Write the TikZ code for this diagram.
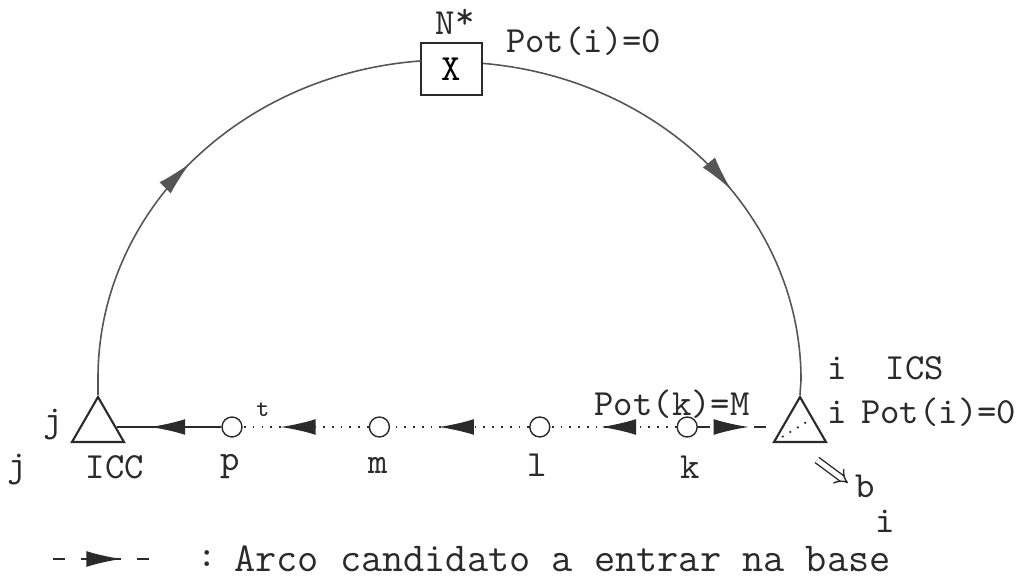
\documentclass[tikz,border=0pt]{standalone}
\usepackage{xcolor}
\usepackage{tikz}
\usetikzlibrary{positioning,arrows.meta,shapes.geometric,decorations.markings}
\definecolor{tinta}{HTML}{2A2A2A}
\tikzset{
  rotulo/.style={font=\fontsize{10.5}{12}\selectfont\ttfamily, text=tinta, inner sep=1pt},
  circulo/.style={circle, draw=tinta, minimum size=2mm, inner sep=0pt},
  triangulo/.style={regular polygon, regular polygon sides=3, draw=tinta,
    line width=0.6pt, minimum size=6mm, inner sep=0pt},
  caixa/.style={rectangle, draw=tinta, fill=white, line width=0.6pt,
    minimum width=6.1mm, minimum height=5.2mm, inner sep=0pt,
    font=\fontsize{10.5}{12}\selectfont\ttfamily},
  linha/.style={draw=tinta, line width=0.5pt},
  pontilhado/.style={linha, dotted},
  tracejado/.style={linha, dash pattern=on 1.2mm off 1.6mm},
  arcoRet/.style={draw=tinta!80, line width=0.45pt},
  setaEm/.style={postaction={decorate, decoration={markings,
    mark=at position #1 with {\arrow{Latex[length=10pt,width=4.5pt]}}}}}
}

\begin{document}
\begin{tikzpicture}
  \useasboundingbox (0,0) rectangle (10.24,5.80);

  % --- No raiz e arco de retorno
  \node[caixa] (caixaX) at (4.515,5.11) {X};
  \node[rotulo] (rotN) at (4.55,5.58) {N\raisebox{0.4ex}{*}};
  \node[rotulo, anchor=west] (potTopo) at (5.02,5.39) {Pot(i)=0};

  % --- Linha de base
  \node[triangulo] (jT) at (0.98,1.53) {};
  \node[circulo] (p) at (2.32,1.53) {};
  \node[circulo, right=1.26cm of p] (m) {};
  \node[circulo, right=1.39cm of m] (l) {};
  \node[circulo, right=1.26cm of l] (k) {};
  \node[triangulo] (iT) at (8.00,1.53) {};

  \draw[linha, setaEm=0.68] (p) -- (jT);
  \draw[pontilhado, setaEm=0.70] (m) -- (p);
  \draw[pontilhado, setaEm=0.65] (l) -- (m);
  \draw[pontilhado, setaEm=0.60] (k) -- (l);
  \draw[tracejado, setaEm=0.61] (k) -- (iT);
  \draw[pontilhado] ([shift={(-0.18,-0.10)}]iT.center) -- ([shift={(0.10,0.07)}]iT.center);

  % --- Arco (semi-elipse) pelo no X
  \coordinate (saidaX) at ([yshift=0.56mm]caixaX.east);
  \draw[arcoRet, setaEm=2.57cm] (jT.corner 1) -- ++(0,0.17)
    arc[start angle=180, end angle=94.6, x radius=3.51cm, y radius=3.18cm];
  \draw[arcoRet, setaEm=2.86cm] (saidaX)
    arc[start angle=84.6, end angle=0, x radius=3.51cm, y radius=3.18cm] -- (iT.corner 1);

  % --- Rotulos
  \node[rotulo] (rotJ) at (0.53,1.55) {j};
  \node[rotulo] (rotJb) at (0.17,1.10) {j};
  \node[rotulo] (rotICC) at (1.15,1.13) {ICC};
  \node[rotulo] (rotP) at (2.30,1.13) {p};
  \node[rotulo] (rotM) at (3.78,1.15) {m};
  \node[rotulo] (rotL) at (5.37,1.15) {l};
  \node[rotulo] (rotK) at (6.90,1.13) {k};
  \node[rotulo, font=\fontsize{7}{8}\selectfont\ttfamily] (marcaT) at (2.63,1.70) {t};
  \node[rotulo] (potK) at (6.72,1.76) {Pot(k)=M};
  \node[rotulo] (rotI) at (8.37,2.12) {i};
  \node[rotulo] (rotICS) at (9.15,2.12) {ICS};
  \node[rotulo] (rotIb) at (8.37,1.68) {i};
  \node[rotulo, anchor=west] (potI) at (8.57,1.68) {Pot(i)=0};

  % --- Oferta b_i
  \node[rotulo] (rotB) at (8.75,0.76) {b\raisebox{-2.2ex}{i}};
  \coordinate (biIni) at (8.17,1.20);
  \coordinate (biFim) at (8.48,0.97);
  \draw[draw=tinta, line width=0.4pt, double, double distance=1.4pt, -{Implies}] (biIni) -- (biFim);

  % --- Legenda
  \coordinate (legIni) at (0.53,0.21);
  \coordinate (legFim) at (1.57,0.21);
  \draw[tracejado, setaEm=0.66] (legIni) -- (legFim);
  \node[rotulo] (doisPontos) at (2.07,0.21) {:};
  \node[rotulo, anchor=west, font=\fontsize{11.7}{14}\selectfont\ttfamily] (legenda) at (2.30,0.21) {Arco candidato a entrar na base};

\end{tikzpicture}
\end{document}
